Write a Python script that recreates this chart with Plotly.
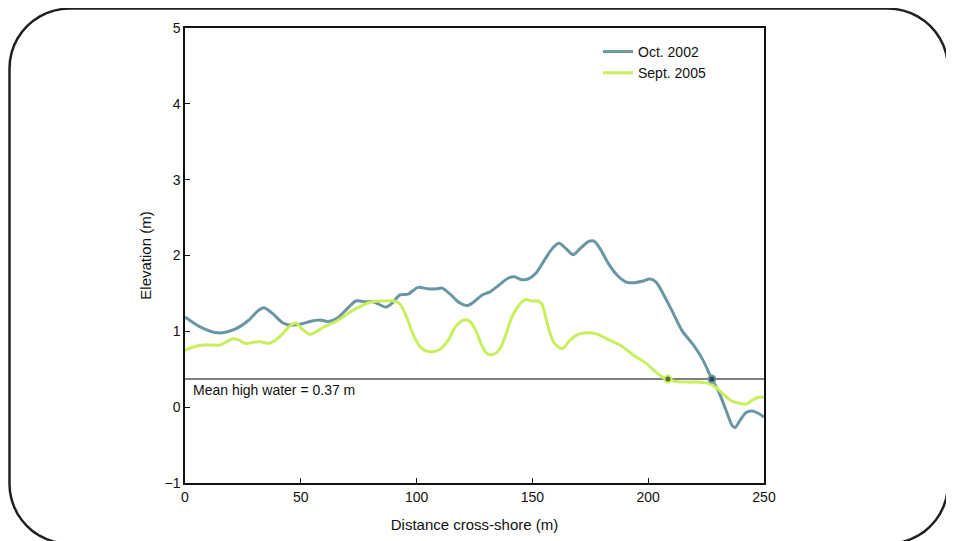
import math
import plotly.graph_objects as go

# ---- data ----
oct2002_x = [0, 6.5, 14.2, 21.6, 27.2, 31.5, 34.1, 37.6, 42.3, 46.2, 50.5, 54, 58.3, 61.8, 66, 70.4,
             73.8, 77.3, 81.2, 86.8, 89.4, 92.8, 96.3, 100.6, 104.9, 108.8, 111, 114.5, 117.9, 121.8,
             124.8, 128.3, 131.7, 135.2, 139.5, 142.1, 145.5, 148.1, 151.6, 155, 158.5, 161.5, 164.5,
             167.6, 170.6, 174, 176.6, 179.2, 182.7, 186.6, 190.5, 193.9, 197.4, 200.8, 203.4, 206.9,
             210.3, 214.6, 219, 223.3, 227.5, 230.5, 233.6, 236.2, 237.5, 239.7, 242.3, 244.9, 247.5, 250]
oct2002_y = [1.19, 1.06, 0.98, 1.03, 1.14, 1.27, 1.31, 1.24, 1.11, 1.08, 1.10, 1.13, 1.15, 1.13, 1.18, 1.31,
             1.40, 1.39, 1.39, 1.32, 1.37, 1.48, 1.49, 1.58, 1.56, 1.56, 1.57, 1.49, 1.39, 1.34,
             1.39, 1.48, 1.52, 1.60, 1.70, 1.72, 1.68, 1.69, 1.77, 1.93, 2.09, 2.16, 2.09,
             2.01, 2.09, 2.18, 2.19, 2.09, 1.90, 1.74, 1.65, 1.64, 1.66, 1.69, 1.65, 1.47,
             1.27, 1.01, 0.84, 0.64, 0.37, 0.20, -0.04, -0.24, -0.27, -0.17, -0.07, -0.05, -0.08, -0.13]

sept2005_x = [0, 4.3, 8.6, 15.1, 17.3, 20.3, 22.9, 25.9, 30.7, 33.2, 35.8, 38.9, 41.9, 45.3, 47.9, 50.5,
              54, 57, 60, 63.9, 67.8, 72.1, 76.4, 80.7, 85.9, 90.2, 92.8, 95.9, 98.9, 102.3, 106.6,
              110, 113.6, 117, 120.5, 123, 125.6, 128.2, 130.8, 133.4, 136, 138.6, 141.2, 144.6,
              147.2, 149.8, 152.4, 154.1, 156.7, 159.3, 162.8, 166.2, 169.7, 174.9, 178.3, 183.5,
              187.8, 190.5, 193.9, 198.6, 203.4, 206, 208.5, 211.6, 218, 222.4, 226.3, 229.3, 233.2,
              236.2, 239.7, 242.3, 244.9, 247.5, 250]
sept2005_y = [0.75, 0.80, 0.82, 0.82, 0.85, 0.90, 0.89, 0.84, 0.86, 0.86, 0.84, 0.88, 0.96, 1.07, 1.11, 1.03,
              0.96, 1.00, 1.06, 1.11, 1.18, 1.27, 1.34, 1.39, 1.40, 1.40, 1.36, 1.17, 0.93, 0.77, 0.73,
              0.76, 0.88, 1.07, 1.15, 1.13, 1.01, 0.81, 0.70, 0.70, 0.77, 0.96, 1.19, 1.36,
              1.42, 1.40, 1.40, 1.36, 1.07, 0.85, 0.77, 0.88, 0.96, 0.98, 0.96, 0.88,
              0.82, 0.76, 0.68, 0.59, 0.46, 0.40, 0.37, 0.34, 0.33, 0.33, 0.31, 0.26, 0.15,
              0.08, 0.05, 0.04, 0.09, 0.13, 0.13]

mhw = 0.37
crossing_x = [208.5, 227.5]
x_ticks = [0, 50, 100, 150, 200, 250]
y_ticks = [-1, 0, 1, 2, 3, 4, 5]
y_tick_text = ["\u22121", "0", "1", "2", "3", "4", "5"]

BLUE = "#6a96a3"
GREEN = "#c8ef5c"
FONT = "Liberation Sans, Arial, sans-serif"
INK = "#111111"

# page body has an 8px default margin: compensate so things land on target pixels
OFF = 8
L, R, T, B = 185 - OFF, 764 - OFF, 26 - OFF, 483 - OFF
FW, FH = 954, 541
W, H = R - L, B - T
def px(x): return (x - OFF - L) / W      # target-page pixel -> paper
def py(y): return (B - (y - OFF)) / H

fig = go.Figure()
fig.add_trace(go.Scatter(x=oct2002_x, y=oct2002_y, mode="lines", name="Oct. 2002",
                         line=dict(color=BLUE, width=3, shape="spline", smoothing=0.8)))
fig.add_trace(go.Scatter(x=sept2005_x, y=sept2005_y, mode="lines", name="Sept. 2005",
                         line=dict(color=GREEN, width=3, shape="spline", smoothing=0.8)))
fig.add_trace(go.Scatter(x=[crossing_x[0]], y=[mhw], mode="markers", showlegend=False,
                         marker=dict(size=7, color="#5a6a40", line=dict(color=GREEN, width=2))))
fig.add_trace(go.Scatter(x=[crossing_x[1]], y=[mhw], mode="markers", showlegend=False,
                         marker=dict(size=7, color="#2f4850", line=dict(color=BLUE, width=2))))

fig.add_shape(type="line", xref="x", yref="y", x0=0, x1=250, y0=mhw, y1=mhw,
              line=dict(color="#555555", width=1.5), layer="below")
fig.add_annotation(x=2.5, y=mhw, xref="x", yref="y", xanchor="left", yanchor="top",
                   text="Mean high water = 0.37 m", showarrow=False, yshift=-1,
                   font=dict(family=FONT, size=14, color=INK))

# rounded frame
x0, x1, y0, y1, rad = 9.5, 948, 6.5, 544, 60
pts = []
def arc(cx, cy, a0, a1):
    for i in range(13):
        a = math.radians(a0 + (a1 - a0) * i / 12)
        pts.append((cx + rad * math.cos(a), cy + rad * math.sin(a)))
arc(x0 + rad, y0 + rad, 180, 270)
arc(x1 - rad, y0 + rad, 270, 360)
arc(x1 - rad, y1 - rad, 0, 90)
arc(x0 + rad, y1 - rad, 90, 180)
path = "M " + " L ".join(f"{px(a):.5f},{py(b):.5f}" for a, b in pts) + " Z"
fig.add_shape(type="path", xref="paper", yref="paper", path=path,
              line=dict(color="#231f20", width=2.5))

axis_common = dict(showgrid=False, zeroline=False, showline=True, linecolor=INK, linewidth=1.5,
                   mirror=True, ticks="inside", ticklen=5, tickcolor=INK,
                   tickfont=dict(family=FONT, size=14, color=INK))
fig.update_xaxes(range=[0, 250], tickvals=x_ticks,
                 title=dict(text="Distance cross-shore (m)", font=dict(family=FONT, size=15, color=INK),
                            standoff=16), **axis_common)
fig.update_yaxes(range=[-1, 5], tickvals=y_ticks, ticktext=y_tick_text,
                 title=dict(text="Elevation (m)", font=dict(family=FONT, size=15, color=INK),
                            standoff=9), **axis_common)

fig.update_layout(
    width=FW, height=FH,
    margin=dict(l=L, r=FW - R, t=T, b=FH - B),
    paper_bgcolor="white", plot_bgcolor="white",
    font=dict(family=FONT, size=14, color=INK),
    legend=dict(x=px(598), y=py(34), xanchor="left", yanchor="top", bgcolor="rgba(0,0,0,0)",
                font=dict(family=FONT, size=14, color=INK), tracegroupgap=0),
)

fig.write_html("out.html")
